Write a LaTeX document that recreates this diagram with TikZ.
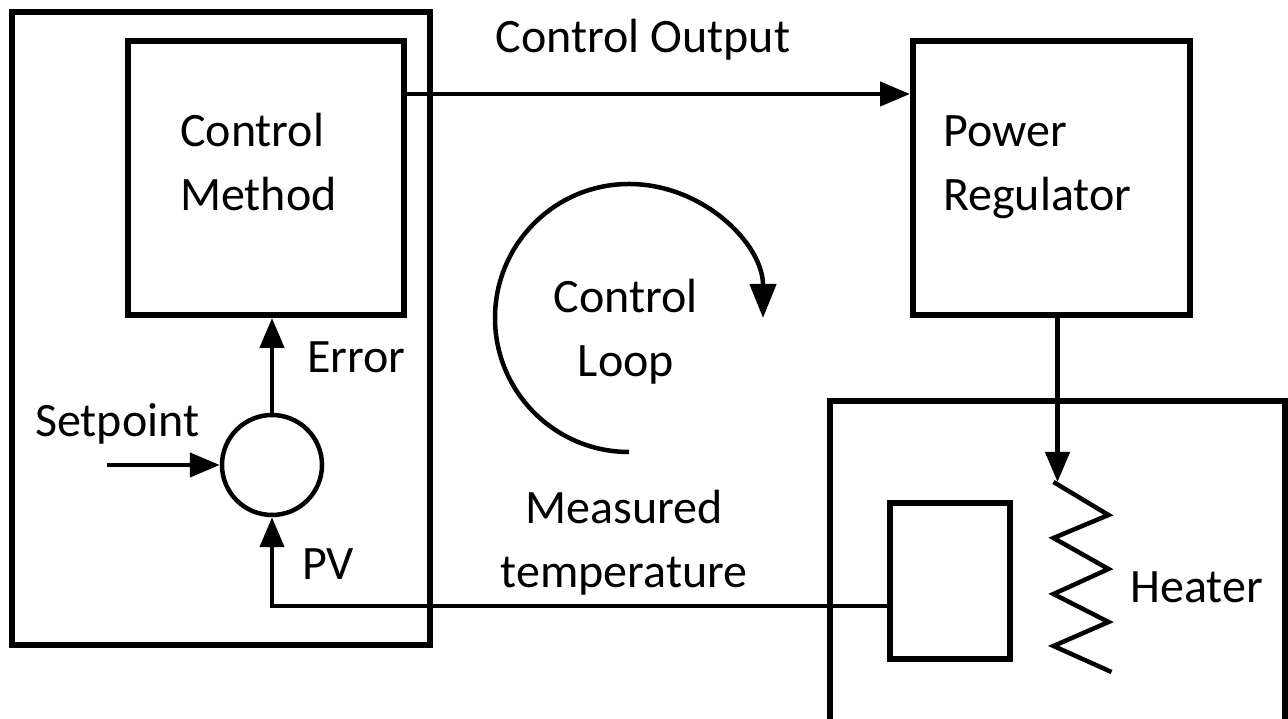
\documentclass[tikz,border=0pt]{standalone}
\usepackage{fontspec}
\setmainfont{Carlito}
\usetikzlibrary{arrows.meta, positioning}

\begin{document}
\begin{tikzpicture}[x=1pt, y=1pt,
                    box/.style={draw, line width=6pt, rectangle, inner sep=0},
                    sumpoint/.style={draw, line width=4.5pt, circle, minimum size=100, inner sep=0},
                    lbl/.style={font=\fontsize{48}{64}\selectfont, inner sep=0, anchor=base west},
                    arr/.style={-{Triangle[length=30pt, width=24pt]}, line width=4.5pt},
                    wire/.style={line width=4.5pt, line join=miter},
                    looparr/.style={-{Triangle[length=34pt, width=26pt]}, line width=4.5pt}
                    ]
    \clip (0,0) rectangle (1288,719);

    % boxes
    \node[box, minimum width=418, minimum height=633] at (221,390.5) (controller){};
    \node[box, minimum width=276, minimum height=274] at (266,541)   (method){};
    \node[box, minimum width=277, minimum height=274] at (1051.5,541) (power){};
    \node[box, minimum width=120, minimum height=156] at (950,138)   (sensor){};
    \node[sumpoint] at (272,254) (sum){};
    \draw[line width=6pt] (830,-20) |- (1285,318) -- (1285,-20);

    % labels (base of a two line label = its last line)
    \node[lbl, align=left]   at (180,508)  (methodlabel) {Control\\Method};
    \node[lbl, align=left]   at (943,508)  (powerlabel)  {Power\\Regulator};
    \node[lbl, anchor=base]  at (643,666)  (outlabel)    {Control Output};
    \node[lbl, align=center, anchor=base] at (626,342) (looplabel) {Control\\Loop};
    \node[lbl, align=center, anchor=base] at (624,131) (measlabel) {Measured\\temperature};
    \node[lbl]               at (35,282)   (setlabel)    {Setpoint};
    \node[lbl]               at (307,346)  (errlabel)    {Error};
    \node[lbl]               at (302,139)  (pvlabel)     {PV};
    \node[lbl]               at (1130,116) (heatlabel)   {Heater};

    % free ends
    \coordinate (setin)    at (107,254);
    \coordinate (pvcorner) at (272,113);
    \coordinate (heattop)  at (1057.5,237);
    \coordinate (loopstart) at (629,267);

    % signal path
    \draw[arr] (setin) -- (sum.west);
    \draw[arr] (sum.north) -- (sum.north |- method.south);
    \draw[arr] ([yshift=84]method.east) -- ([yshift=84]power.west);
    \draw[arr] (heattop |- power.south) -- (heattop);
    \draw[arr] (sensor.west |- pvcorner) -- (pvcorner) -- (sum.south);

    % heater coil
    \draw[wire] ([xshift=-4]heattop) -- ++(55,-33) -- ++(-55,-23) -- ++(55,-31) -- ++(-55,-25)
                -- ++(55,-28) -- ++(-55,-24) -- ++(58,-26);

    % control loop
    \draw[looparr] (loopstart) arc[start angle=270, end angle=0, radius=134];
\end{tikzpicture}
\end{document}
